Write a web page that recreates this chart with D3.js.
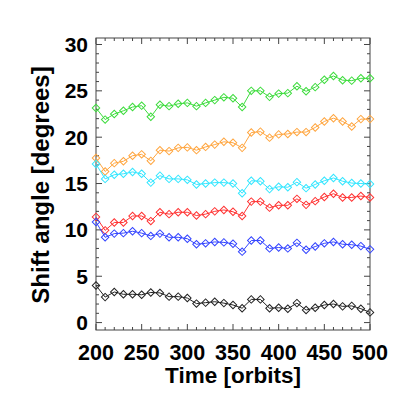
<!DOCTYPE html>
<html><head><meta charset="utf-8">
<script src="https://cdn.jsdelivr.net/npm/d3@7"></script>
<style>html,body{margin:0;padding:0;background:#fff;}</style>
</head><body>
<svg id="c" width="407" height="407"></svg>
<script>
const orbits = d3.range(200, 501, 10);
const green  = [23.15,21.9,22.5,22.85,23.25,23.4,22.2,23.5,23.35,23.6,23.7,23.35,23.7,24.0,24.3,24.2,23.25,25.0,25.0,24.35,24.7,24.75,25.5,24.95,25.4,26.2,26.6,26.15,26.1,26.35,26.35];
const orange = [17.75,16.3,17.2,17.4,18.0,18.15,17.45,18.6,18.5,18.85,18.9,18.6,18.95,19.2,19.5,19.4,18.85,20.5,20.6,19.95,20.3,20.35,20.55,20.55,21.05,21.7,22.05,21.7,21.15,21.95,21.95];
const cyan   = [17.1,15.5,15.95,16.05,16.25,16.05,15.1,15.85,15.5,15.5,15.4,14.9,15.0,15.1,15.1,15.0,13.95,15.3,15.25,14.4,14.65,14.6,15.15,14.5,14.9,15.3,15.6,15.25,15.05,15.0,14.95];
const red    = [11.4,9.95,10.8,10.8,11.5,11.5,10.95,11.9,11.7,11.9,11.9,11.55,11.7,12.0,12.15,11.95,11.5,13.05,13.05,12.4,12.65,12.65,13.35,12.7,13.1,13.55,13.9,13.5,13.5,13.65,13.5];
const blue   = [10.85,9.2,9.6,9.65,9.85,9.65,9.35,9.6,9.2,9.2,9.05,8.45,8.55,8.7,8.65,8.5,7.65,8.85,8.85,8.0,8.1,8.0,8.6,7.85,8.2,8.55,8.7,8.45,8.4,8.25,7.9];
const black  = [4.0,2.75,3.3,3.05,3.05,3.0,3.25,3.2,2.8,2.8,2.65,2.05,2.15,2.25,2.1,1.9,1.55,2.5,2.5,1.55,1.6,1.5,2.1,1.35,1.6,1.9,2.0,1.75,1.8,1.5,1.1];
const seriesColors = ["#3ddc3d","#ffa640","#33e6ff","#ff3333","#3344ff","#222222"];
const xTicks = [200,250,300,350,400,450,500];
const yTicks = [0,5,10,15,20,25,30];

const svg = d3.select("#c");
const L=96, R=370, T=38, B=330;
const x = d3.scaleLinear().domain([200,500]).range([L,R]);
const y = d3.scaleLinear().domain([-0.8,30.7]).range([B,T]);
const font = "'Liberation Sans', Arial, Helvetica, sans-serif";
const axisColor = "#444";

// frame
svg.append("rect").attr("x",L).attr("y",T).attr("width",R-L).attr("height",B-T)
  .attr("fill","none").attr("stroke",axisColor).attr("stroke-width",1);

// ticks
const g = svg.append("g").attr("stroke",axisColor).attr("stroke-width",1);
d3.range(200,501,10).forEach(v=>{
  const len = (v%50===0)?6:3;
  g.append("line").attr("x1",x(v)).attr("x2",x(v)).attr("y1",B).attr("y2",B-len);
  g.append("line").attr("x1",x(v)).attr("x2",x(v)).attr("y1",T).attr("y2",T+len);
});
d3.range(0,31,1).forEach(v=>{
  const len = (v%5===0)?6:3;
  g.append("line").attr("x1",L).attr("x2",L+len).attr("y1",y(v)).attr("y2",y(v));
  g.append("line").attr("x1",R).attr("x2",R-len).attr("y1",y(v)).attr("y2",y(v));
});

// tick labels
svg.append("g").selectAll("text").data(xTicks).join("text")
  .attr("x",d=>x(d)).attr("y",360).attr("text-anchor","middle")
  .attr("font-family",font).attr("font-weight","bold").attr("font-size",21.5)
  .text(d=>d);
svg.append("g").selectAll("text").data(yTicks).join("text")
  .attr("x",88).attr("y",d=>y(d)+7.5).attr("text-anchor","end")
  .attr("font-family",font).attr("font-weight","bold").attr("font-size",21)
  .text(d=>d);

// titles
svg.append("text").attr("x",(L+R)/2).attr("y",383).attr("text-anchor","middle")
  .attr("font-family",font).attr("font-weight","bold").attr("font-size",22.5)
  .text("Time [orbits]");
svg.append("text").attr("transform",`translate(48.5,${(T+B)/2+1}) rotate(-90)`)
  .attr("text-anchor","middle")
  .attr("font-family",font).attr("font-weight","bold").attr("font-size",24)
  .text("Shift angle [degrees]");

// series
const all = [green,orange,cyan,red,blue,black];
const line = d3.line().x((d,i)=>x(orbits[i])).y(d=>y(d));
all.forEach((s,k)=>{
  const c = seriesColors[k];
  svg.append("path").datum(s).attr("d",line).attr("fill","none").attr("stroke",c).attr("stroke-width",1);
  svg.append("g").selectAll("path").data(s).join("path")
    .attr("d",d3.symbol().type(d3.symbolSquare).size(28)())
    .attr("transform",(d,i)=>`translate(${x(orbits[i])},${y(d)}) rotate(45)`)
    .attr("fill","none").attr("stroke",c).attr("stroke-width",1);
});
</script>
</body></html>
